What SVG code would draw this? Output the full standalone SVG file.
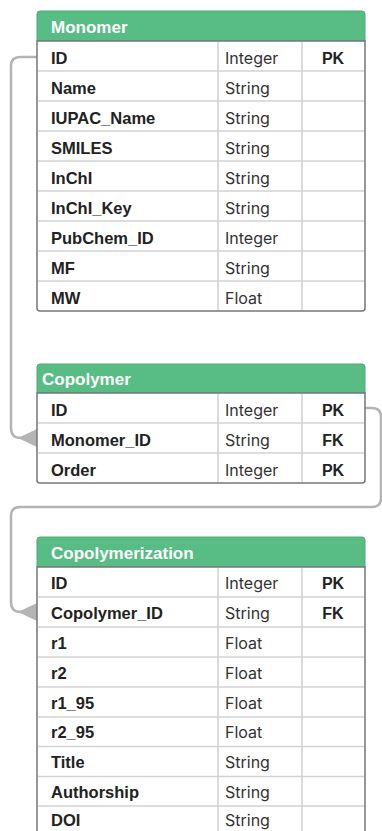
<svg xmlns="http://www.w3.org/2000/svg" width="382" height="831" viewBox="0 0 382 831">
<style>
.hdr{fill:#58bd84;stroke:#4dab76;stroke-width:1}
.body{fill:#ffffff;stroke:#777777;stroke-width:1.5}
.grid{stroke:#d2d2d2;stroke-width:1.5;fill:none}
.ht{font-family:"Liberation Sans",Arial,sans-serif;font-weight:bold;font-size:17px;fill:#ffffff}
.nm{font-family:"Liberation Sans",Arial,sans-serif;font-weight:bold;font-size:16.5px;fill:#222222}
.ty{font-family:Inter,"Liberation Sans",sans-serif;font-size:16px;fill:#333333}
.key{font-family:"Liberation Sans",Arial,sans-serif;font-weight:bold;font-size:16px;fill:#222222;text-anchor:middle}
.conn{fill:none;stroke:#b4b4b4;stroke-width:2.5}
.head{fill:#b4b4b4}
</style>
<g id="connectors">
<path class="conn" d="M37,57 H20 Q11,57 11,66 V428 Q11,438 21,438"/>
<polygon class="head" points="18,438 37,429 37,447"/>
<path class="conn" d="M365,408 H372 Q381,408 381,417 V498 Q381,507 372,507 H20 Q11,507 11,516 V602 Q11,612 21,612"/>
<polygon class="head" points="18,612 37,603 37,621"/>
</g>
<g id="monomer">
<path class="hdr" d="M37,41 V14 Q37,11 40,11 H362 Q365,11 365,14 V41 Z"/>
<text class="ht" x="51" y="32.5">Monomer</text>
<path class="body" d="M37,41 H365 V308 Q365,311 362,311 H40 Q37,311 37,308 Z"/>
<path class="grid" d="M38,71 H364 M38,101 H364 M38,131 H364 M38,161 H364 M38,191 H364 M38,221 H364 M38,251 H364 M38,281 H364 M218,42 V310 M302,42 V310"/>
<text class="nm" x="51" y="63.5">ID</text><text class="ty" x="225" y="63.5">Integer</text><text class="key" x="333" y="63.5">PK</text>
<text class="nm" x="51" y="93.5">Name</text><text class="ty" x="225" y="93.5">String</text>
<text class="nm" x="51" y="123.5">IUPAC_Name</text><text class="ty" x="225" y="123.5">String</text>
<text class="nm" x="51" y="153.5">SMILES</text><text class="ty" x="225" y="153.5">String</text>
<text class="nm" x="51" y="183.5">InChI</text><text class="ty" x="225" y="183.5">String</text>
<text class="nm" x="51" y="213.5">InChI_Key</text><text class="ty" x="225" y="213.5">String</text>
<text class="nm" x="51" y="243.5">PubChem_ID</text><text class="ty" x="225" y="243.5">Integer</text>
<text class="nm" x="51" y="273.5">MF</text><text class="ty" x="225" y="273.5">String</text>
<text class="nm" x="51" y="303.5">MW</text><text class="ty" x="225" y="303.5">Float</text>
</g>
<g id="copolymer">
<path class="hdr" d="M37,393 V367 Q37,364 40,364 H362 Q365,364 365,367 V393 Z"/>
<text class="ht" x="42" y="385">Copolymer</text>
<path class="body" d="M37,393 H365 V480 Q365,483 362,483 H40 Q37,483 37,480 Z"/>
<path class="grid" d="M38,423 H364 M38,453 H364 M218,394 V482 M302,394 V482"/>
<text class="nm" x="51" y="415.5">ID</text><text class="ty" x="225" y="415.5">Integer</text><text class="key" x="333" y="415.5">PK</text>
<text class="nm" x="51" y="445.5">Monomer_ID</text><text class="ty" x="225" y="445.5">String</text><text class="key" x="333" y="445.5">FK</text>
<text class="nm" x="51" y="475.5">Order</text><text class="ty" x="225" y="475.5">Integer</text><text class="key" x="333" y="475.5">PK</text>
</g>
<g id="copolymerization">
<path class="hdr" d="M37,567 V540 Q37,537 40,537 H362 Q365,537 365,540 V567 Z"/>
<text class="ht" x="51" y="558.5">Copolymerization</text>
<path class="body" d="M37,567 H365 V833 Q365,836 362,836 H40 Q37,836 37,833 Z"/>
<path class="grid" d="M38,597 H364 M38,627 H364 M38,657 H364 M38,687 H364 M38,717 H364 M38,746.5 H364 M38,776.5 H364 M38,806 H364 M218,568 V835 M302,568 V835"/>
<text class="nm" x="51" y="588.5">ID</text><text class="ty" x="225" y="588.5">Integer</text><text class="key" x="333" y="588.5">PK</text>
<text class="nm" x="51" y="618.5">Copolymer_ID</text><text class="ty" x="225" y="618.5">String</text><text class="key" x="333" y="618.5">FK</text>
<text class="nm" x="51" y="648.5">r1</text><text class="ty" x="225" y="648.5">Float</text>
<text class="nm" x="51" y="678.5">r2</text><text class="ty" x="225" y="678.5">Float</text>
<text class="nm" x="51" y="708.5">r1_95</text><text class="ty" x="225" y="708.5">Float</text>
<text class="nm" x="51" y="738">r2_95</text><text class="ty" x="225" y="738">Float</text>
<text class="nm" x="51" y="768">Title</text><text class="ty" x="225" y="768">String</text>
<text class="nm" x="51" y="797.5">Authorship</text><text class="ty" x="225" y="797.5">String</text>
<text class="nm" x="51" y="826">DOI</text><text class="ty" x="225" y="826">String</text>
</g>
</svg>
